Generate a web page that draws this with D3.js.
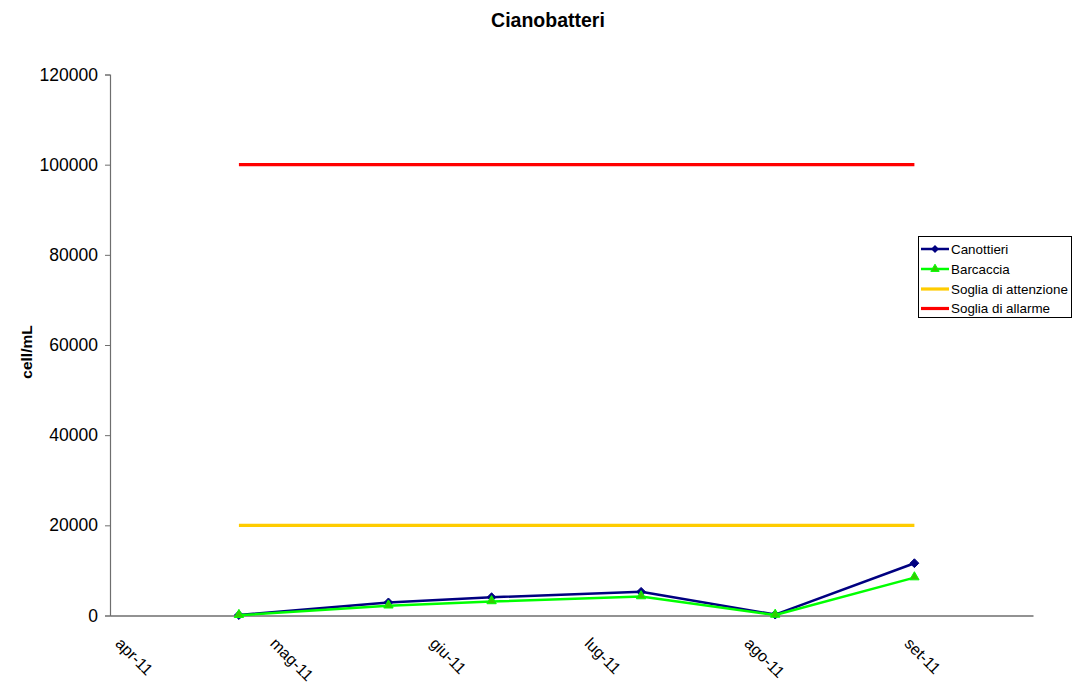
<!DOCTYPE html>
<html>
<head>
<meta charset="utf-8">
<script src="https://cdn.jsdelivr.net/npm/d3@7"></script>
<style>
  html, body { margin: 0; padding: 0; background: #ffffff; }
  svg { display: block; font-family: "Liberation Sans", Arial, sans-serif; }
</style>
</head>
<body>
<svg id="chart" width="1077" height="684"></svg>
<script>
// Sampling dates and cyanobacteria counts (cell/mL)
const sampleDates = ["2011-04-26", "2011-05-25", "2011-06-14", "2011-07-13", "2011-08-08", "2011-09-04"];
const canottieri = [100, 2900, 4050, 5250, 200, 11600];
const barcaccia  = [50, 2150, 3100, 4200, 100, 8400];
const sogliaAttenzione = [20000, 20000, 20000, 20000, 20000, 20000];
const sogliaAllarme    = [100000, 100000, 100000, 100000, 100000, 100000];

// Axis setup
const xDomain = ["2011-04-01", "2011-09-27"];
const xTickDates = ["2011-04-01", "2011-05-01", "2011-06-01", "2011-07-01", "2011-08-01", "2011-09-01"];
const xTickLabels = ["apr-11", "mag-11", "giu-11", "lug-11", "ago-11", "set-11"];
const yTicks = [0, 20000, 40000, 60000, 80000, 100000, 120000];

const parse = d3.utcParse("%Y-%m-%d");
const svg = d3.select("#chart");

const x = d3.scaleUtc().domain(xDomain.map(parse)).range([110, 1033]);
const y = d3.scaleLinear().domain([0, 120000]).range([615.5, 74.5]);

const series = [
  { name: "Canottieri", values: canottieri, color: "#000080", width: 2.5, marker: "diamond" },
  { name: "Barcaccia", values: barcaccia, color: "#00FF00", width: 2.5, marker: "triangle" },
  { name: "Soglia di attenzione", values: sogliaAttenzione, color: "#FFCC00", width: 3.2, marker: null },
  { name: "Soglia di allarme", values: sogliaAllarme, color: "#FF0000", width: 3.2, marker: null }
];

// Title
svg.append("text")
  .attr("x", 548).attr("y", 27)
  .attr("text-anchor", "middle")
  .attr("font-size", 19.5).attr("font-weight", "bold")
  .attr("fill", "#000")
  .text("Cianobatteri");

// Y axis
const yAxis = svg.append("g")
  .attr("transform", "translate(110,0)")
  .call(d3.axisLeft(y).tickValues(yTicks).tickSize(5).tickPadding(7).tickFormat(d3.format("d")));
yAxis.select(".domain").attr("stroke", "#6e6e6e").attr("stroke-width", 1.2);
yAxis.selectAll(".tick line").attr("stroke", "#6e6e6e");
yAxis.selectAll(".tick text")
  .attr("font-size", 17.5).attr("fill", "#000")
  .attr("font-family", "Liberation Sans, Arial, sans-serif");

// Y axis title
svg.append("text")
  .attr("transform", "translate(32,352) rotate(-90)")
  .attr("text-anchor", "middle")
  .attr("font-size", 15.5).attr("font-weight", "bold")
  .attr("fill", "#000")
  .text("cell/mL");

// X axis
const xAxis = svg.append("g")
  .attr("transform", `translate(0,${y(0)})`)
  .call(d3.axisBottom(x)
    .tickValues(xTickDates.map(parse))
    .tickSize(0)
    .tickFormat((d, i) => xTickLabels[i]));
xAxis.select(".domain").attr("stroke", "#6e6e6e").attr("stroke-width", 1.6);
xAxis.selectAll(".tick text")
  .attr("font-size", 16).attr("fill", "#000")
  .attr("font-family", "Liberation Sans, Arial, sans-serif")
  .attr("text-anchor", "start")
  .attr("y", 0).attr("dy", 0)
  .attr("transform", "translate(4,29) rotate(45)");

// Series lines and markers
const line = d3.line()
  .x((d, i) => x(parse(sampleDates[i])))
  .y(d => y(d));

const plot = svg.append("g");
series.forEach(s => {
  plot.append("path")
    .datum(s.values)
    .attr("fill", "none")
    .attr("stroke", s.color)
    .attr("stroke-width", s.width)
    .attr("stroke-linejoin", "round")
    .attr("d", line);
  if (s.marker) {
    const sym = s.marker === "diamond"
      ? d3.symbol().type(d3.symbolDiamond2).size(50)
      : d3.symbol().type(d3.symbolTriangle).size(38);
    plot.selectAll(null)
      .data(s.values)
      .enter().append("path")
      .attr("d", sym)
      .attr("transform", (d, i) => `translate(${x(parse(sampleDates[i]))},${y(d) - (s.marker === "triangle" ? 0.5 : 0)})`)
      .attr("fill", s.marker === "diamond" ? "#000080" : "#33cc00")
      .attr("stroke", s.marker === "diamond" ? "#000080" : "#00FF00")
      .attr("stroke-width", 1);
  }
});

// Legend
const legend = svg.append("g");
legend.append("rect")
  .attr("x", 918.5).attr("y", 236.5)
  .attr("width", 153).attr("height", 81)
  .attr("fill", "#fff").attr("stroke", "#000").attr("stroke-width", 1);
const legendY = [249, 269, 289, 308.5];
series.forEach((s, i) => {
  const g = legend.append("g").attr("transform", `translate(0,${legendY[i]})`);
  g.append("line")
    .attr("x1", 921).attr("x2", 949).attr("y1", 0).attr("y2", 0)
    .attr("stroke", s.color).attr("stroke-width", s.width);
  if (s.marker === "diamond") {
    g.append("path").attr("d", d3.symbol().type(d3.symbolDiamond2).size(40))
      .attr("transform", "translate(935,0)").attr("fill", "#000080");
  } else if (s.marker === "triangle") {
    g.append("path").attr("d", d3.symbol().type(d3.symbolTriangle).size(30))
      .attr("transform", "translate(935,0)").attr("fill", "#33cc00").attr("stroke", "#00FF00");
  }
  g.append("text")
    .attr("x", 951).attr("y", 0).attr("dy", "0.35em")
    .attr("font-size", 13.4).attr("fill", "#000")
    .text(s.name);
});
</script>
</body>
</html>
